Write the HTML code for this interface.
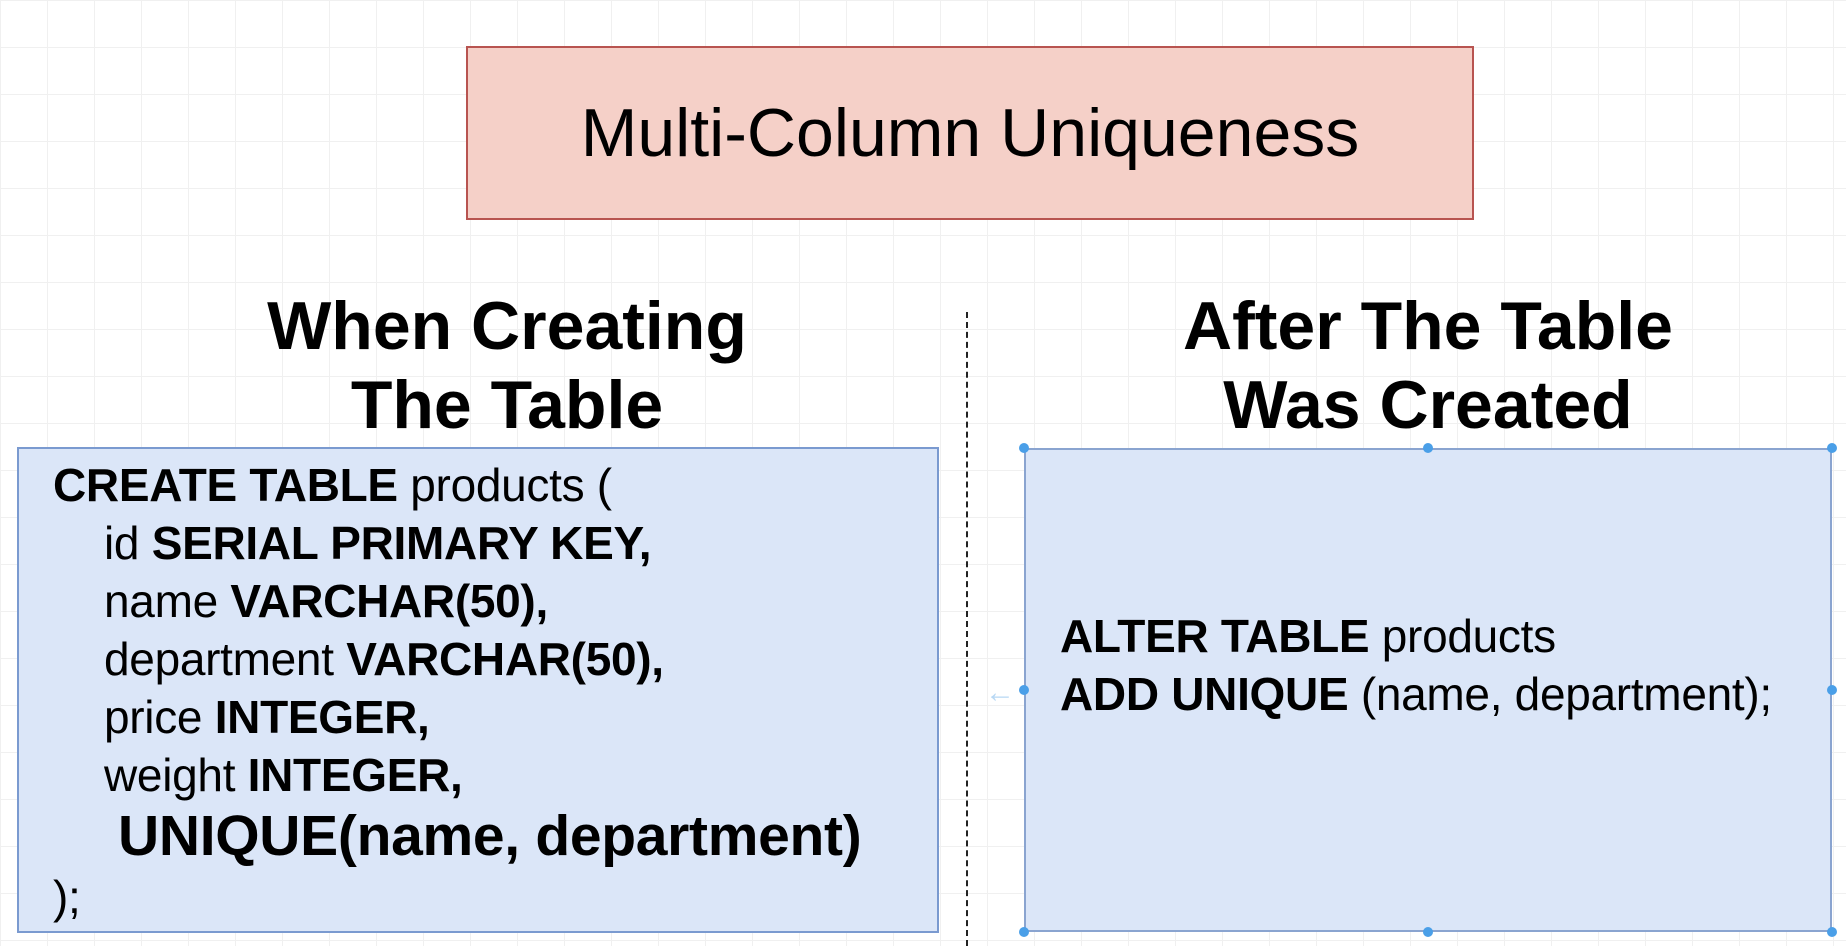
<!DOCTYPE html>
<html><head><meta charset="utf-8"><style>
body{margin:0;width:1846px;height:946px;overflow:hidden;position:relative;background:#fff;
background-image:linear-gradient(#f0f0f0 1px,transparent 1px),linear-gradient(90deg,#f0f0f0 1px,transparent 1px);background-size:47px 47px;
font-family:"Liberation Sans",sans-serif;color:#000}
.abs{position:absolute}
.title{left:466px;top:46px;width:1004px;height:170px;background:#f5d0c8;border:2px solid #b85450;display:flex;align-items:center;justify-content:center;font-size:68px}
.h{font-weight:bold;font-size:68px;text-align:center;line-height:79px;width:800px}
.box{background:#dbe6f8;border:2px solid #7a9ad0;box-sizing:border-box}
.code{font-size:46px;letter-spacing:-0.3px;white-space:nowrap;line-height:58px}
b{font-weight:bold}
.dot{position:absolute;width:10px;height:10px;border-radius:50%;background:#4a9fe8}
</style></head><body>
<div class="abs title">Multi-Column Uniqueness</div>
<div class="abs h" style="left:107px;top:287px">When Creating<br>The Table</div>
<div class="abs h" style="left:1028px;top:287px">After The Table<br>Was Created</div>
<div class="abs" style="left:966px;top:312px;height:634px;border-left:2px dashed #222"></div>
<div class="abs box" style="left:17px;top:447px;width:922px;height:486px"></div>
<div class="abs code" style="left:53px;top:456px">
<div><b>CREATE TABLE</b> products (</div>
<div style="padding-left:51px"><div>id <b>SERIAL PRIMARY KEY,</b></div>
<div>name <b>VARCHAR(50),</b></div>
<div>department <b>VARCHAR(50),</b></div>
<div>price <b>INTEGER,</b></div>
<div>weight <b>INTEGER,</b></div>
<div style="font-size:57px;font-weight:bold;padding-left:14px;line-height:64px">UNIQUE(name, department)</div></div>
<div>);</div>
</div>
<div class="abs box" style="left:1024px;top:448px;width:808px;height:484px;border-color:#8aa4d0"></div>
<div class="abs code" style="left:1060px;top:607px">
<div><b>ALTER TABLE</b> products</div>
<div><b>ADD UNIQUE</b> (name, department);</div>
</div>
<div class="dot" style="left:1019px;top:443px"></div>
<div class="dot" style="left:1423px;top:443px"></div>
<div class="dot" style="left:1827px;top:443px"></div>
<div class="dot" style="left:1019px;top:685px"></div>
<div class="dot" style="left:1827px;top:685px"></div>
<div class="dot" style="left:1019px;top:927px"></div>
<div class="dot" style="left:1423px;top:927px"></div>
<div class="dot" style="left:1827px;top:927px"></div>
<div class="abs" style="left:985px;top:676px;color:#b8d8f4;font-size:30px;font-weight:bold">&#8592;</div>
</body></html>
